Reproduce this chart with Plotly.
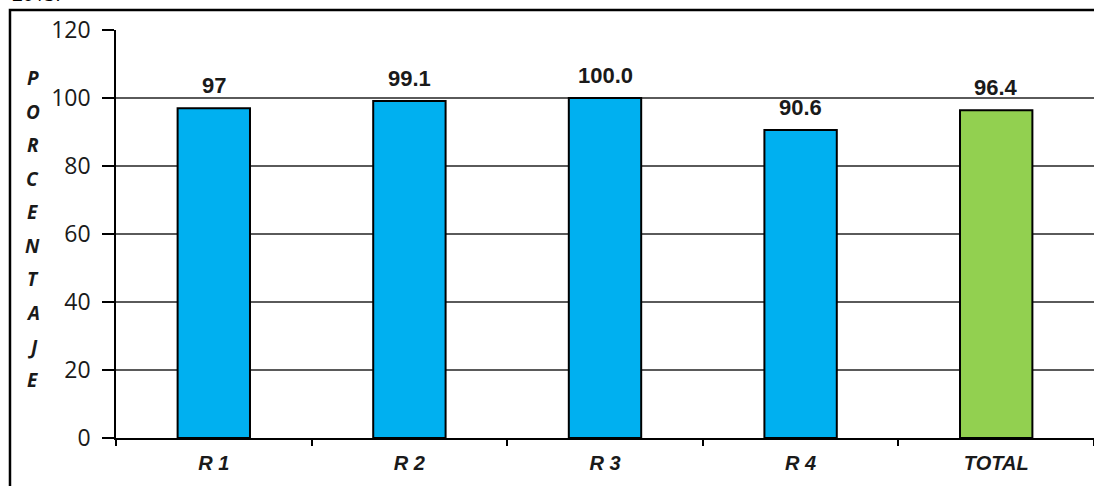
import plotly.graph_objects as go

categories = ["R 1", "R 2", "R 3", "R 4", "TOTAL"]
values = [97, 99.1, 100.0, 90.6, 96.4]
value_labels = ["97", "99.1", "100.0", "90.6", "96.4"]
bar_colors = ["#00B0F0", "#00B0F0", "#00B0F0", "#00B0F0", "#92D050"]
y_ticks = [0, 20, 40, 60, 80, 100, 120]
y_title_letters = list("PORCENTAJE")

fig = go.Figure()
fig.add_trace(go.Bar(
    x=categories, y=values,
    marker=dict(color=bar_colors, line=dict(color="#000000", width=2)),
    width=0.37,
    cliponaxis=False,
    hoverinfo="skip",
))

# value labels above bars
for c, v, lab in zip(categories, values, value_labels):
    fig.add_annotation(x=c, y=v, xref="x", yref="y", text="<b>%s</b>" % lab,
                       showarrow=False, xanchor="center", yanchor="bottom", yshift=8,
                       font=dict(family="Liberation Sans, Arial", size=22, color="#1a1a1a"))

fig.update_layout(
    width=1094, height=486,
    margin=dict(l=116, r=0, t=30, b=48),
    paper_bgcolor="white", plot_bgcolor="white",
    showlegend=False,
    xaxis=dict(
        range=[-0.5, 4.5],
        showline=True, linecolor="#000000", linewidth=2,
        ticks="outside", tickson="boundaries", ticklen=6, tickcolor="#000000", tickwidth=1.5,
        tickfont=dict(family="Liberation Sans, Arial", size=20, color="#1a1a1a"),
        tickvals=list(range(len(categories))),
        ticktext=["<b><i>%s</i></b>" % c for c in categories],
        ticklabelstandoff=6,
        showgrid=False, fixedrange=True,
    ),
    yaxis=dict(
        range=[0, 120], tickvals=y_ticks,
        showline=True, linecolor="#000000", linewidth=1.5,
        ticks="outside", ticklen=12, tickcolor="#000000", tickwidth=1.5,
        tickfont=dict(family="Open Sans, Noto Sans, sans-serif", size=23, color="#1a1a1a"),
        showgrid=True, gridcolor="#5a5a5a", gridwidth=1.5,
        zeroline=False, fixedrange=True,
        ticklabelstandoff=7,
    ),
)

# vertical axis title, one letter per line
n = len(y_title_letters)
for i, ch in enumerate(y_title_letters):
    fig.add_annotation(
        xref="paper", yref="paper", x=-0.085, y=0.882 - i * (0.882 - 0.142) / (n - 1),
        xanchor="center", yanchor="middle",
        text="<b><i>%s</i></b>" % ch, showarrow=False,
        font=dict(family="Open Sans, Noto Sans, sans-serif", size=19, color="#1a1a1a"),
    )

# outer frame of the chart
fig.add_shape(type="rect", xref="paper", yref="paper",
              x0=-0.1084, x1=1.05, y0=-0.2, y1=1.049,
              line=dict(color="#000000", width=2.5), fillcolor="rgba(0,0,0,0)", layer="below")

# partially cut-off caption above
fig.add_annotation(xref="paper", yref="paper", x=-0.1084, y=1.0515,
                   xanchor="left", yanchor="bottom", text="2013.", showarrow=False,
                   font=dict(family="Open Sans, Noto Sans, sans-serif", size=19, color="#000000"))

fig.write_html("out.html", config={"displayModeBar": False},
               post_script="document.body.style.margin='0';")
